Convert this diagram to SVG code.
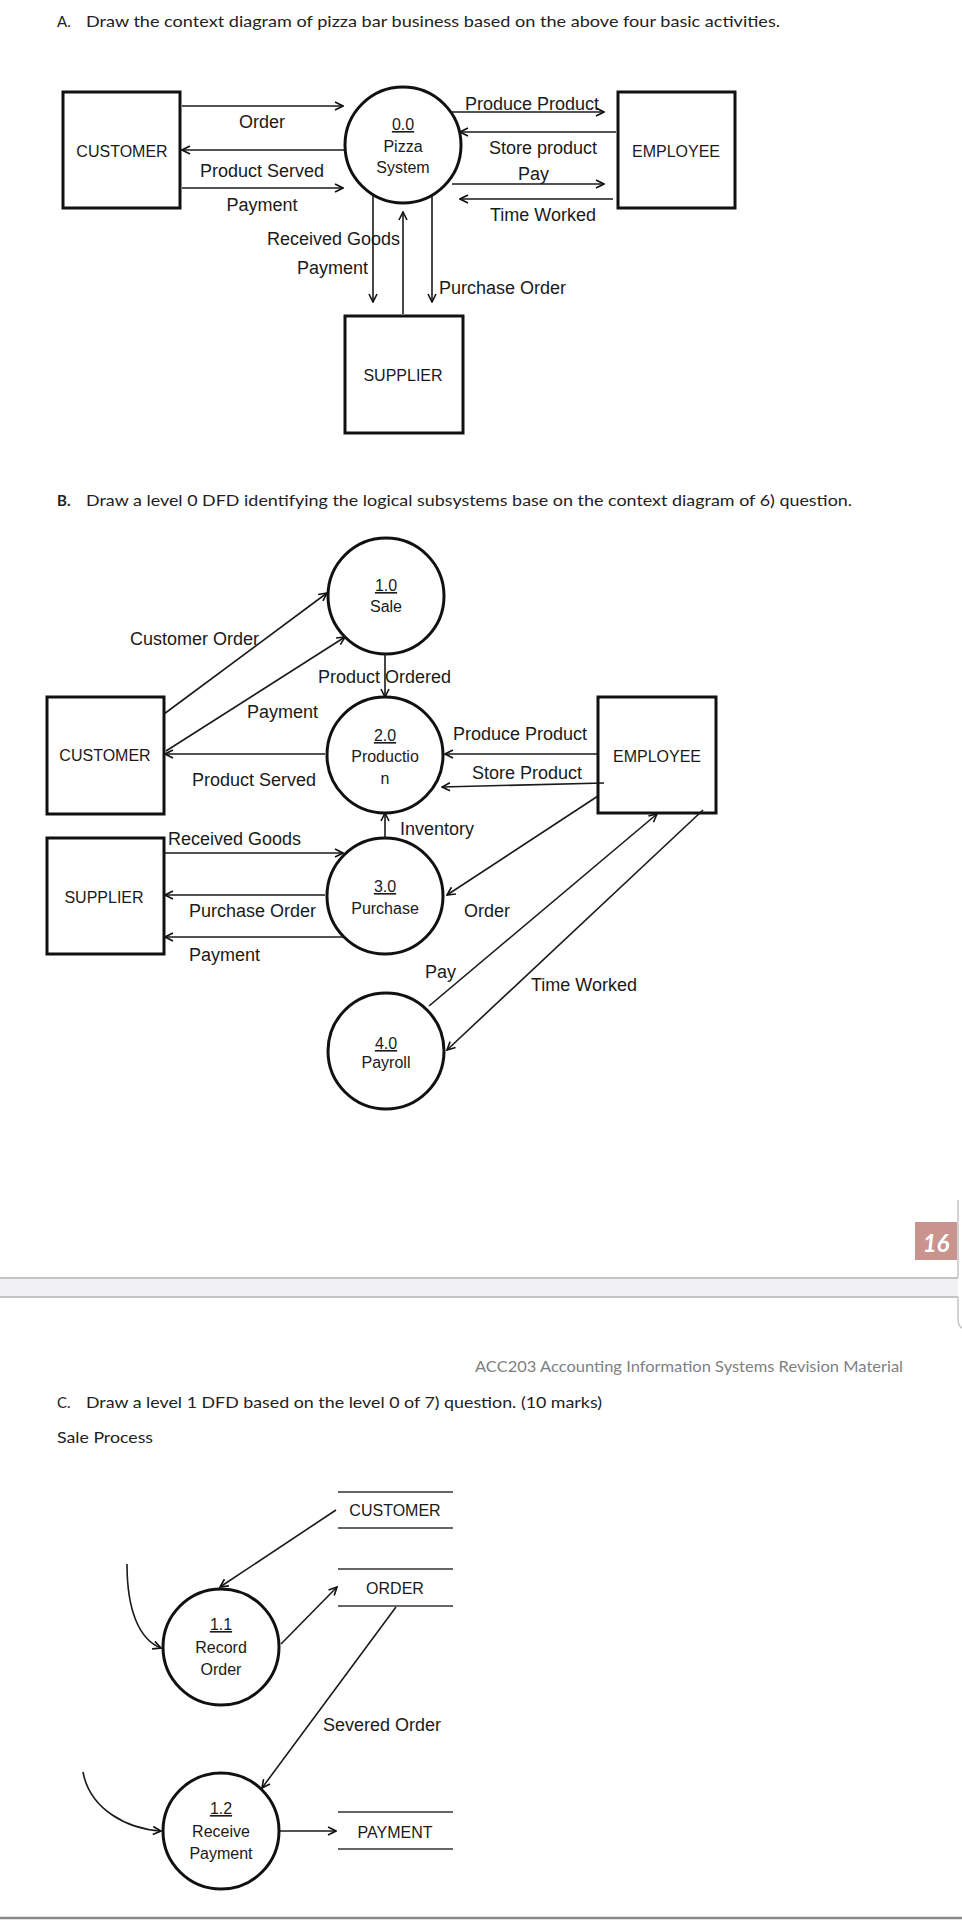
<svg xmlns="http://www.w3.org/2000/svg" width="962" height="1920" viewBox="0 0 962 1920">
<style>
.lbl{font-family:"Liberation Sans",Arial,sans-serif;font-size:18px;fill:#1a1a1a}
.ent{font-family:"Liberation Sans",Arial,sans-serif;font-size:16px;fill:#1a1a1a;text-anchor:middle}
.box{fill:none;stroke:#111;stroke-width:3}
.proc{fill:none;stroke:#111;stroke-width:3}
.ds{stroke:#666;stroke-width:2}
.ul{text-decoration:underline}
.hd{font-family:"Lato","Liberation Sans",sans-serif;font-size:15px;fill:#222}
#connectors line,#connectors path{stroke:#1a1a1a;stroke-width:1.6;fill:none}
</style>
<defs>
<marker id="ah" viewBox="0 0 10 10" refX="9" refY="5" markerWidth="10" markerHeight="10" markerUnits="userSpaceOnUse" orient="auto">
<path d="M1,1 L9,5 L1,9" fill="none" stroke="#111" stroke-width="1.6"/>
</marker>
</defs>
<rect width="962" height="1920" fill="#ffffff"/>

<!-- headings -->
<g id="headings">
<text class="hd" x="57" y="27">A.</text>
<text class="hd" x="86" y="27" textLength="694" lengthAdjust="spacingAndGlyphs">Draw the context diagram of pizza bar business based on the above four basic activities.</text>
<text class="hd" x="57" y="506" font-weight="bold">B.</text>
<text class="hd" x="86" y="506" textLength="766" lengthAdjust="spacingAndGlyphs">Draw a level 0 DFD identifying the logical subsystems base on the context diagram of 6) question.</text>
<text class="hd" x="57" y="1408">C.</text>
<text class="hd" x="86" y="1408" textLength="516" lengthAdjust="spacingAndGlyphs">Draw a level 1 DFD based on the level 0 of 7) question. (10 marks)</text>
<text class="hd" x="57" y="1443" textLength="96" lengthAdjust="spacingAndGlyphs">Sale Process</text>
<text class="hd" x="475" y="1372" font-size="13" fill="#7f7f7f" style="fill:#7f7f7f" textLength="428" lengthAdjust="spacingAndGlyphs">ACC203 Accounting Information Systems Revision Material</text>
</g>

<!-- page break -->
<g id="pagebreak">
<rect x="915" y="1222" width="42" height="38" fill="#c9948e"/>
<text x="936" y="1252" font-family="Lato,'Liberation Sans',sans-serif" font-size="24" font-style="italic" font-weight="bold" fill="#ffffff" text-anchor="middle">16</text>
<rect x="0" y="1278" width="958" height="19" fill="#f1f1f4"/>
<line x1="0" y1="1278" x2="958" y2="1278" stroke="#c4c4c8" stroke-width="2"/>
<line x1="0" y1="1297" x2="958" y2="1297" stroke="#c4c4c8" stroke-width="2"/>
<path d="M958,1200 V1278 M958,1297 V1318 Q958,1326 962,1328" stroke="#c4c4c8" stroke-width="1.5" fill="none"/>
<line x1="0" y1="1918" x2="962" y2="1918" stroke="#8a8a8a" stroke-width="2.5"/>
</g>

<!-- ===== Section A nodes ===== -->
<g id="A-customer"><rect class="box" x="63" y="92" width="117" height="116"/><text class="ent" x="122" y="157">CUSTOMER</text></g>
<g id="A-system"><circle class="proc" cx="403" cy="145" r="58"/>
<text class="ent ul" x="403" y="130">0.0</text><text class="ent" x="403" y="152">Pizza</text><text class="ent" x="403" y="173">System</text></g>
<g id="A-employee"><rect class="box" x="618" y="92" width="117" height="116"/><text class="ent" x="676" y="157">EMPLOYEE</text></g>
<g id="A-supplier"><rect class="box" x="345" y="316" width="118" height="117"/><text class="ent" x="403" y="381">SUPPLIER</text></g>

<!-- ===== Section B nodes ===== -->
<g id="B-sale"><circle class="proc" cx="386" cy="596" r="58"/><text class="ent ul" x="386" y="591">1.0</text><text class="ent" x="386" y="612">Sale</text></g>
<g id="B-production"><circle class="proc" cx="385" cy="755" r="58"/><text class="ent ul" x="385" y="741">2.0</text><text class="ent" x="385" y="762">Productio</text><text class="ent" x="385" y="784">n</text></g>
<g id="B-purchase"><circle class="proc" cx="385" cy="896" r="58"/><text class="ent ul" x="385" y="892">3.0</text><text class="ent" x="385" y="914">Purchase</text></g>
<g id="B-payroll"><circle class="proc" cx="386" cy="1051" r="58"/><text class="ent ul" x="386" y="1049">4.0</text><text class="ent" x="386" y="1068">Payroll</text></g>
<g id="B-customer"><rect class="box" x="47" y="697" width="117" height="117"/><text class="ent" x="105" y="761">CUSTOMER</text></g>
<g id="B-supplier"><rect class="box" x="47" y="838" width="117" height="116"/><text class="ent" x="104" y="903">SUPPLIER</text></g>
<g id="B-employee"><rect class="box" x="598" y="697" width="118" height="116"/><text class="ent" x="657" y="762">EMPLOYEE</text></g>

<!-- ===== Section C nodes ===== -->
<g id="C-store-customer"><line class="ds" x1="338" y1="1492" x2="453" y2="1492"/><line class="ds" x1="338" y1="1528" x2="453" y2="1528"/><text class="ent" x="395" y="1516">CUSTOMER</text></g>
<g id="C-store-order"><line class="ds" x1="338" y1="1569" x2="453" y2="1569"/><line class="ds" x1="338" y1="1606" x2="453" y2="1606"/><text class="ent" x="395" y="1594">ORDER</text></g>
<g id="C-store-payment"><line class="ds" x1="338" y1="1812" x2="453" y2="1812"/><line class="ds" x1="338" y1="1849" x2="453" y2="1849"/><text class="ent" x="395" y="1838">PAYMENT</text></g>
<g id="C-record"><circle class="proc" cx="221" cy="1647" r="58"/><text class="ent ul" x="221" y="1630">1.1</text><text class="ent" x="221" y="1653">Record</text><text class="ent" x="221" y="1675">Order</text></g>
<g id="C-receive"><circle class="proc" cx="221" cy="1831" r="58"/><text class="ent ul" x="221" y="1814">1.2</text><text class="ent" x="221" y="1837">Receive</text><text class="ent" x="221" y="1859">Payment</text></g>

<!-- ===== connectors ===== -->
<g id="connectors">
<!-- A -->
<line x1="182" y1="106" x2="343" y2="106" marker-end="url(#ah)"/>
<line x1="345" y1="150" x2="182" y2="150" marker-end="url(#ah)"/>
<line x1="182" y1="188" x2="343" y2="188" marker-end="url(#ah)"/>
<line x1="452" y1="112" x2="604" y2="112" marker-end="url(#ah)"/>
<line x1="616" y1="132" x2="460" y2="132" marker-end="url(#ah)"/>
<line x1="452" y1="184" x2="604" y2="184" marker-end="url(#ah)"/>
<line x1="613" y1="199" x2="460" y2="199" marker-end="url(#ah)"/>
<line x1="373" y1="196" x2="373" y2="302" marker-end="url(#ah)"/>
<line x1="403" y1="314" x2="403" y2="212" marker-end="url(#ah)"/>
<line x1="432" y1="196" x2="432" y2="302" marker-end="url(#ah)"/>
<!-- B -->
<line x1="164" y1="714" x2="327" y2="593" marker-end="url(#ah)"/>
<line x1="166" y1="751" x2="345" y2="637" marker-end="url(#ah)"/>
<line x1="325" y1="754" x2="165" y2="754" marker-end="url(#ah)"/>
<line x1="385" y1="654" x2="385" y2="697" marker-end="url(#ah)"/>
<line x1="598" y1="754" x2="445" y2="754" marker-end="url(#ah)"/>
<line x1="604" y1="783" x2="442" y2="787" marker-end="url(#ah)"/>
<line x1="385" y1="838" x2="385" y2="813" marker-end="url(#ah)"/>
<line x1="164" y1="853" x2="343" y2="853" marker-end="url(#ah)"/>
<line x1="325" y1="895" x2="165" y2="895" marker-end="url(#ah)"/>
<line x1="343" y1="937" x2="165" y2="937" marker-end="url(#ah)"/>
<line x1="598" y1="796" x2="447" y2="895" marker-end="url(#ah)"/>
<line x1="429" y1="1006" x2="657" y2="814" marker-end="url(#ah)"/>
<line x1="703" y1="810" x2="447" y2="1050" marker-end="url(#ah)"/>
<!-- C -->
<line x1="336" y1="1510" x2="220" y2="1587" marker-end="url(#ah)"/>
<line x1="281" y1="1644" x2="337" y2="1587" marker-end="url(#ah)"/>
<path d="M127,1564 C127,1612 140,1640 161,1648" marker-end="url(#ah)"/>
<line x1="396" y1="1607" x2="262" y2="1788" marker-end="url(#ah)"/>
<path d="M83,1772 C90,1810 128,1829 161,1831" marker-end="url(#ah)"/>
<line x1="280" y1="1831" x2="336" y2="1831" marker-end="url(#ah)"/>
</g>

<!-- ===== connector labels ===== -->
<g id="labels">
<text class="lbl" x="262" y="128" text-anchor="middle">Order</text>
<text class="lbl" x="262" y="177" text-anchor="middle">Product Served</text>
<text class="lbl" x="262" y="211" text-anchor="middle">Payment</text>
<text class="lbl" x="267" y="245">Received Goods</text>
<text class="lbl" x="297" y="274">Payment</text>
<text class="lbl" x="439" y="294">Purchase Order</text>
<text class="lbl" x="465" y="110">Produce Product</text>
<text class="lbl" x="489" y="154">Store product</text>
<text class="lbl" x="518" y="180">Pay</text>
<text class="lbl" x="490" y="221">Time Worked</text>

<text class="lbl" x="130" y="645">Customer Order</text>
<text class="lbl" x="247" y="718">Payment</text>
<text class="lbl" x="192" y="786">Product Served</text>
<text class="lbl" x="318" y="683">Product Ordered</text>
<text class="lbl" x="453" y="740">Produce Product</text>
<text class="lbl" x="472" y="779">Store Product</text>
<text class="lbl" x="400" y="835">Inventory</text>
<text class="lbl" x="168" y="845">Received Goods</text>
<text class="lbl" x="189" y="917">Purchase Order</text>
<text class="lbl" x="189" y="961">Payment</text>
<text class="lbl" x="464" y="917">Order</text>
<text class="lbl" x="425" y="978">Pay</text>
<text class="lbl" x="531" y="991">Time Worked</text>

<text class="lbl" x="323" y="1731">Severed Order</text>
</g>
</svg>
